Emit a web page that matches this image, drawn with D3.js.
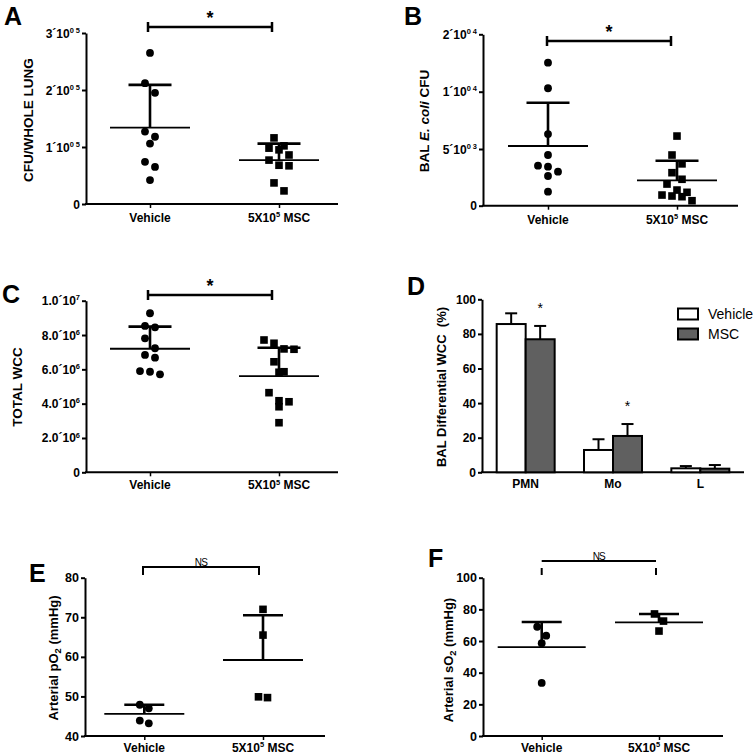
<!DOCTYPE html>
<html><head><meta charset="utf-8">
<script src="https://cdn.jsdelivr.net/npm/d3@7"></script>
<style>
body{margin:0;background:#fff}
svg{display:block}
text{font-family:"Liberation Sans",Arial,sans-serif;white-space:pre}
</style>
</head><body>
<svg id="c" width="753" height="756"></svg>
<script>
// ================= DATA =================
const scatterGroups = ["Vehicle", "5X10^5 MSC"];

// A : CFU / whole lung
const aVehicle = [265000, 212000, 195000, 127000, 118000, 106000, 74000, 65000, 42000];
const aMSC = [116000, 102000, 98000, 95000, 86000, 77000, 68000, 67000, 37000, 23000];
const aMean = [134000, 77000];
const aSD = [75000, 29000];
const aTicks = [0, 100000, 200000, 300000];
const aTickLabels = ["0", "1´10^{0 5}", "2´10^{0 5}", "3´10^{0 5}"];

// B : BAL E. coli CFU (segmented axis)
const bVehicle = [15050, 10600, 6300, 4470, 3530, 3440, 3000, 2620, 1240];
const bMSC = [6130, 4470, 3690, 2910, 2330, 1910, 1380, 1180, 940, 855, 795, 440];
const bMean = [5260, 2240];
const bSD = [3780, 1730];
const bTicks = [0, 5000, 10000, 20000];
const bTickLabels = ["0", "5´10^{0 3}", "1´10^{0 4}", "2´10^{0 4}"];

// C : total WCC
const cVehicle = [9270000, 8530000, 8450000, 7810000, 7230000, 6840000, 6680000, 5900000, 5860000, 5710000];
const cMSC = [7710000, 7520000, 7190000, 7170000, 6440000, 5860000, 5830000, 4640000, 4170000, 4110000, 3820000, 2890000];
const cMean = [7200000, 5610000];
const cSD = [1290000, 1650000];
const cTicks = [0, 2e6, 4e6, 6e6, 8e6, 1e7];
const cTickLabels = ["0", "2.0´10^6", "4.0´10^6", "6.0´10^6", "8.0´10^6", "1.0´10^7"];

// D : BAL differential WCC (%)
const dCategories = ["PMN", "Mo", "L"];
const dSeries = ["Vehicle", "MSC"];
const dVehicleMean = [85.7, 12.9, 2.3];
const dVehicleSD = [6.2, 6.2, 1.3];
const dMSCMean = [76.9, 21.0, 2.1];
const dMSCSD = [7.7, 6.9, 2.1];
const dSignificant = [true, true, false];
const dTicks = [0, 20, 40, 60, 80, 100];

// E : arterial pO2
const eVehicle = [47.9, 47.0, 43.9, 43.2];
const eMSC = [72.0, 65.5, 49.9, 49.7];
const eMean = [45.6, 59.2];
const eSD = [2.3, 11.3];
const eTicks = [40, 50, 60, 70, 80];

// F : arterial sO2
const fVehicle = [69.0, 63.4, 58.6, 33.5];
const fMSC = [77.1, 72.6, 66.3];
const fMean = [56.2, 71.8];
const fSD = [15.8, 5.3];
const fTicks = [0, 20, 40, 60, 80, 100];

// ================= HELPERS =================
const svg = d3.select("#c");

function segs(str) {
  const out = []; const re = /([\^_~])(?:\{([^}]*)\}|(\S))/g; let last = 0, m;
  while ((m = re.exec(str))) {
    if (m.index > last) out.push({t: str.slice(last, m.index)});
    out.push({t: m[2] !== undefined ? m[2] : m[3], k: m[1]});
    last = re.lastIndex;
  }
  if (last < str.length) out.push({t: str.slice(last)});
  return out;
}
function rich(text, str, size) {
  let shift = 0;
  segs(str).forEach(s => {
    const ts = text.append("tspan").text(s.t);
    let target = 0;
    if (s.k === "^") { target = -size * 0.4; ts.attr("font-size", size * 0.62); }
    else if (s.k === "_") { target = size * 0.25; ts.attr("font-size", size * 0.72); }
    else if (s.k === "~") ts.attr("font-style", "italic");
    if (target !== shift) { ts.attr("dy", target - shift); shift = target; }
  });
  return text;
}

function swarm(values, y, spacing, thresh) {
  const pts = values.map(v => ({v, py: y(v)})).sort((a, b) => a.py - b.py);
  const rows = []; let cur = null;
  pts.forEach(p => {
    if (cur && p.py - cur[0].py < thresh) cur.push(p);
    else { cur = [p]; rows.push(cur); }
  });
  rows.forEach(r => r.forEach((p, i) => p.dx = (i - (r.length - 1) / 2) * spacing));
  return pts;
}

function panelLetter(l, x, y) {
  svg.append("text").attr("x", x).attr("y", y).attr("font-size", 25)
    .attr("font-weight", "bold").text(l);
}

function scatterPanel(p) {
  const g = svg.append("g");
  const y = d3.scaleLinear().domain(p.yDomain).range(p.yRange);
  const x = d3.scalePoint().domain(scatterGroups).range(p.xPos);
  const y0 = y(p.yDomain[0]);

  panelLetter(p.letter, p.lx, p.ly);

  // y axis
  const ya = g.append("g").attr("transform", `translate(${p.left},0)`)
    .call(d3.axisLeft(y).tickValues(p.ticks).tickSize(4).tickSizeOuter(0).tickFormat(""));
  ya.selectAll("path,line").attr("stroke", "#000").attr("stroke-width", 2);
  p.ticks.forEach((t, i) => {
    rich(g.append("text").attr("x", p.left - 6).attr("y", y(t) + 4.5)
      .attr("text-anchor", "end").attr("font-size", p.tickSize).attr("font-weight", "bold"),
      p.tickLabels[i], p.tickSize);
  });
  // x axis
  g.append("line").attr("x1", p.left - 1).attr("x2", p.right).attr("y1", y0).attr("y2", y0)
    .attr("stroke", "#000").attr("stroke-width", 2);
  const xa = g.append("g").attr("transform", `translate(0,${y0})`)
    .call(d3.axisBottom(x).tickSize(4).tickFormat(""));
  xa.select(".domain").remove();
  xa.selectAll("line").attr("stroke", "#000").attr("stroke-width", 1.5);
  scatterGroups.forEach(gname => {
    rich(g.append("text").attr("x", x(gname)).attr("y", y0 + p.xLabelDy)
      .attr("text-anchor", "middle").attr("font-size", 12).attr("font-weight", "bold"),
      gname, 12);
  });

  // axis title
  rich(g.append("text").attr("transform", `translate(${p.titleX},${p.titleY}) rotate(-90)`)
    .attr("text-anchor", "middle").attr("font-size", p.titleSize).attr("font-weight", "bold"),
    p.title, p.titleSize);

  // points
  p.data.forEach((vals, gi) => {
    const cx = x(scatterGroups[gi]);
    const pts = swarm(vals, y, p.spacing, p.thresh);
    pts.forEach(pt => {
      if (gi === 0) g.append("circle").attr("cx", cx + pt.dx).attr("cy", pt.py).attr("r", 3.9).attr("fill", "#000");
      else g.append("rect").attr("x", cx + pt.dx - 3.8).attr("y", pt.py - 3.8)
        .attr("width", 7.6).attr("height", 7.6).attr("fill", "#000");
    });
    // mean line and error bar (mean + SD)
    const ym = y(p.mean[gi]), yt = y(p.mean[gi] + p.sd[gi]);
    g.append("line").attr("x1", cx - p.meanHalf).attr("x2", cx + p.meanHalf)
      .attr("y1", ym).attr("y2", ym).attr("stroke", "#000").attr("stroke-width", 1.8);
    g.append("line").attr("x1", cx).attr("x2", cx).attr("y1", ym).attr("y2", yt)
      .attr("stroke", "#000").attr("stroke-width", 2.6);
    g.append("line").attr("x1", cx - p.capHalf).attr("x2", cx + p.capHalf)
      .attr("y1", yt).attr("y2", yt).attr("stroke", "#000").attr("stroke-width", 2.6);
  });

  // significance bracket
  const b = p.bracket;
  if (b.type === "star") {
    g.append("line").attr("x1", b.x0).attr("x2", b.x1).attr("y1", b.y).attr("y2", b.y)
      .attr("stroke", "#000").attr("stroke-width", 2.5);
    [b.x0, b.x1].forEach(xx => g.append("line").attr("x1", xx).attr("x2", xx)
      .attr("y1", b.y - 5).attr("y2", b.y + 5).attr("stroke", "#000").attr("stroke-width", 2.5));
    g.append("text").attr("x", (b.x0 + b.x1) / 2).attr("y", b.y - 3).attr("text-anchor", "middle")
      .attr("font-size", 18).attr("font-weight", "bold").text(b.label);
  } else {
    g.append("line").attr("x1", b.x0).attr("x2", b.x1).attr("y1", b.y).attr("y2", b.y)
      .attr("stroke", "#000").attr("stroke-width", 2);
    [b.x0, b.x1].forEach(xx => g.append("line").attr("x1", xx).attr("x2", xx)
      .attr("y1", b.legTop).attr("y2", b.legBottom).attr("stroke", "#000").attr("stroke-width", 2));
    g.append("text").attr("x", (b.x0 + b.x1) / 2).attr("y", b.y - 1).attr("text-anchor", "middle")
      .attr("font-size", 10).attr("letter-spacing", -0.8).text(b.label);
  }
}

// ================= PANELS =================
scatterPanel({
  letter: "A", lx: 4, ly: 25, left: 86, right: 338,
  yDomain: [0, 300000], yRange: [204, 33], xPos: [150, 279],
  ticks: aTicks, tickLabels: aTickLabels, tickSize: 12,
  data: [aVehicle, aMSC], mean: aMean, sd: aSD,
  title: "CFU/WHOLE LUNG", titleX: 33, titleY: 120, titleSize: 13.5, xLabelDy: 18,
  spacing: 10, thresh: 10, meanHalf: 40, capHalf: 21.5,
  bracket: {type: "star", x0: 148, x1: 272, y: 27, label: "*"}
});
scatterPanel({
  letter: "B", lx: 404, ly: 25, left: 483, right: 738,
  yDomain: [0, 5000, 10000, 20000], yRange: [205.7, 149, 91.7, 34.3], xPos: [548, 677],
  ticks: bTicks, tickLabels: bTickLabels, tickSize: 12,
  data: [bVehicle, bMSC], mean: bMean, sd: bSD,
  title: "BAL ~{E. coli} CFU", titleX: 429, titleY: 121, titleSize: 13.5, xLabelDy: 18,
  spacing: 10, thresh: 10, meanHalf: 40, capHalf: 21.5,
  bracket: {type: "star", x0: 547, x1: 671, y: 41, label: "*"}
});
scatterPanel({
  letter: "C", lx: 2, ly: 303, left: 86, right: 338,
  yDomain: [0, 1e7], yRange: [472.3, 300.7], xPos: [150, 279],
  ticks: cTicks, tickLabels: cTickLabels, tickSize: 12,
  data: [cVehicle, cMSC], mean: cMean, sd: cSD,
  title: "TOTAL WCC", titleX: 22, titleY: 387, titleSize: 13.5, xLabelDy: 17,
  spacing: 10, thresh: 10, meanHalf: 40, capHalf: 21.5,
  bracket: {type: "star", x0: 148, x1: 272, y: 295, label: "*"}
});
scatterPanel({
  letter: "E", lx: 29, ly: 582, left: 85, right: 325,
  yDomain: [40, 80], yRange: [736, 577.7], xPos: [144.3, 263],
  ticks: eTicks, tickLabels: eTicks.map(String), tickSize: 12.5,
  data: [eVehicle, eMSC], mean: eMean, sd: eSD,
  title: "Arterial pO_2 (mmHg)", titleX: 58, titleY: 658, titleSize: 13, xLabelDy: 16,
  spacing: 9, thresh: 9, meanHalf: 40, capHalf: 20,
  bracket: {type: "ns", x0: 143, x1: 259, y: 567, legTop: 566, legBottom: 575, label: "NS"}
});
scatterPanel({
  letter: "F", lx: 428, ly: 567, left: 483, right: 723,
  yDomain: [0, 100], yRange: [736, 577.7], xPos: [541.7, 659],
  ticks: fTicks, tickLabels: fTicks.map(String), tickSize: 12.5,
  data: [fVehicle, fMSC], mean: fMean, sd: fSD,
  title: "Arterial sO_2 (mmHg)", titleX: 453, titleY: 660, titleSize: 13, xLabelDy: 16,
  spacing: 9, thresh: 9, meanHalf: 44, capHalf: 20,
  bracket: {type: "ns2", x0: 541.7, x1: 656, y: 561, legTop: 568, legBottom: 575, label: "NS"}
});

// ----- Panel D : grouped bars -----
(function () {
  const g = svg.append("g");
  panelLetter("D", 407, 295);
  const left = 482, right = 744;
  const y = d3.scaleLinear().domain([0, 100]).range([472.3, 299.3]);
  const x0 = d3.scaleBand().domain(dCategories).range([left, right]).paddingInner(0.336).paddingOuter(0.168);
  const x1 = d3.scaleBand().domain(dSeries).range([0, x0.bandwidth()]);
  const y0 = y(0);
  const ya = g.append("g").attr("transform", `translate(${left},0)`)
    .call(d3.axisLeft(y).tickValues(dTicks).tickSize(4).tickSizeOuter(0).tickFormat(""));
  ya.selectAll("path,line").attr("stroke", "#000").attr("stroke-width", 2);
  dTicks.forEach(t => g.append("text").attr("x", left - 6).attr("y", y(t) + 4.5)
    .attr("text-anchor", "end").attr("font-size", 12).attr("font-weight", "bold").text(t));
  g.append("line").attr("x1", left - 1).attr("x2", right).attr("y1", y0).attr("y2", y0)
    .attr("stroke", "#000").attr("stroke-width", 2);
  dCategories.forEach(c => g.append("text").attr("x", x0(c) + x0.bandwidth() / 2).attr("y", y0 + 16)
    .attr("text-anchor", "middle").attr("font-size", 12).attr("font-weight", "bold").text(c));
  g.append("text").attr("transform", `translate(446,387) rotate(-90)`)
    .attr("text-anchor", "middle").attr("font-size", 13).attr("font-weight", "bold")
    .text("BAL Differential WCC  (%)");

  const means = [dVehicleMean, dMSCMean], sds = [dVehicleSD, dMSCSD];
  const fills = ["#ffffff", "#606060"];
  dSeries.forEach((s, si) => {
    dCategories.forEach((c, ci) => {
      const bx = x0(c) + x1(s), bw = x1.bandwidth(), cx = bx + bw / 2;
      const ym = y(means[si][ci]), yt = y(means[si][ci] + sds[si][ci]);
      g.append("line").attr("x1", cx).attr("x2", cx).attr("y1", ym).attr("y2", yt)
        .attr("stroke", "#000").attr("stroke-width", 2);
      g.append("line").attr("x1", cx - 6).attr("x2", cx + 6).attr("y1", yt).attr("y2", yt)
        .attr("stroke", "#000").attr("stroke-width", 2);
      g.append("rect").attr("x", bx).attr("y", ym).attr("width", bw).attr("height", y0 - ym)
        .attr("fill", fills[si]).attr("stroke", "#000").attr("stroke-width", 2);
      if (si === 1 && dSignificant[ci]) {
        g.append("text").attr("x", cx).attr("y", yt - 13).attr("text-anchor", "middle")
          .attr("font-size", 14).text("*");
      }
    });
  });
  // legend
  dSeries.forEach((s, si) => {
    const ly = 308.5 + si * 20;
    g.append("rect").attr("x", 678).attr("y", ly).attr("width", 20).attr("height", 11)
      .attr("fill", fills[si]).attr("stroke", "#000").attr("stroke-width", 2);
    g.append("text").attr("x", 708).attr("y", ly + 10.5).attr("font-size", 14).text(s);
  });
})();
</script>
</body></html>
